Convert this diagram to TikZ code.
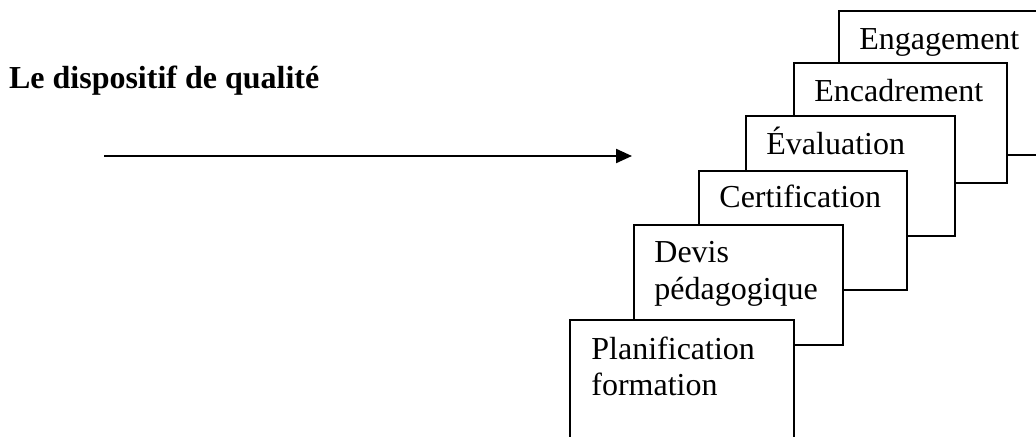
\documentclass[tikz,border=0pt]{standalone}
\usepackage{fontspec}
\setmainfont{Liberation Serif}
\usetikzlibrary{positioning}
\usetikzlibrary{arrows.meta}
\newcommand{\LineThick}{1.1pt}
\newcommand{\TextShiftX}{21}
\newcommand{\TextShiftY}{40}
\newcommand{\LineSkipPx}{36.6}
\newcommand{\BoxHeight}{60pt}
\newcommand{\BoxWidth}{104.5pt}
\newcommand{\StepFont}{\fontsize{16}{18.3}\selectfont}

\begin{document}
\begin{tikzpicture}[x=0.5pt,y=-0.5pt]
  \tikzstyle{every node}=[font=\StepFont]
  \tikzset{stepbox/.style={draw, fill=white, line width=\LineThick, anchor=north west, inner sep=0pt, minimum width=\BoxWidth, minimum height=\BoxHeight},
    steptext/.style={anchor=base west, align=left, inner sep=0pt}}
  \clip (0,0) rectangle (1036,437);

  % Title and arrow
  \node[anchor=base west, font=\StepFont\bfseries] (title) at (2,89) {Le dispositif de qualité};
  \coordinate (arrstart) at (104,156);
  \coordinate (arrend) at (632,156);
  \draw[line width=\LineThick, -{Triangle[length=8pt,width=7pt]}] (arrstart) -- (arrend);

  % Steps, back to front
  \node[stepbox, minimum width=130pt, minimum height=72pt] (engag) at (838,10) {};
  \node[steptext] (engagtxt) at ([shift={(\TextShiftX,\TextShiftY)}]engag.north west) {Engagement};

  \node[stepbox, minimum width=106.5pt] (encad) at (793,62) {};
  \node[steptext] (encadtxt) at ([shift={(\TextShiftX,\TextShiftY)}]encad.north west) {Encadrement};

  \node[stepbox] (evalu) at (745,115) {};
  \node[steptext] (evalutxt) at ([shift={(\TextShiftX,\TextShiftY)}]evalu.north west) {Évaluation};

  \node[stepbox, minimum width=104pt, minimum height=59.5pt] (certif) at (698,170) {};
  \node[steptext] (certiftxt) at ([shift={(\TextShiftX,\TextShiftY-2)}]certif.north west) {Certification};

  % two lines: base anchor sits on the last line
  \node[stepbox] (devis) at (633,224) {};
  \node[steptext] (devistxt) at ([shift={(\TextShiftX,\TextShiftY+\LineSkipPx-1)}]devis.north west) {Devis\\pédagogique};

  \node[stepbox, minimum width=112pt, minimum height=80pt] (planif) at (569,319) {};
  \node[steptext] (planiftxt) at ([shift={(\TextShiftX+1,\TextShiftY+\LineSkipPx)}]planif.north west) {Planification\\formation};
\end{tikzpicture}
\end{document}
